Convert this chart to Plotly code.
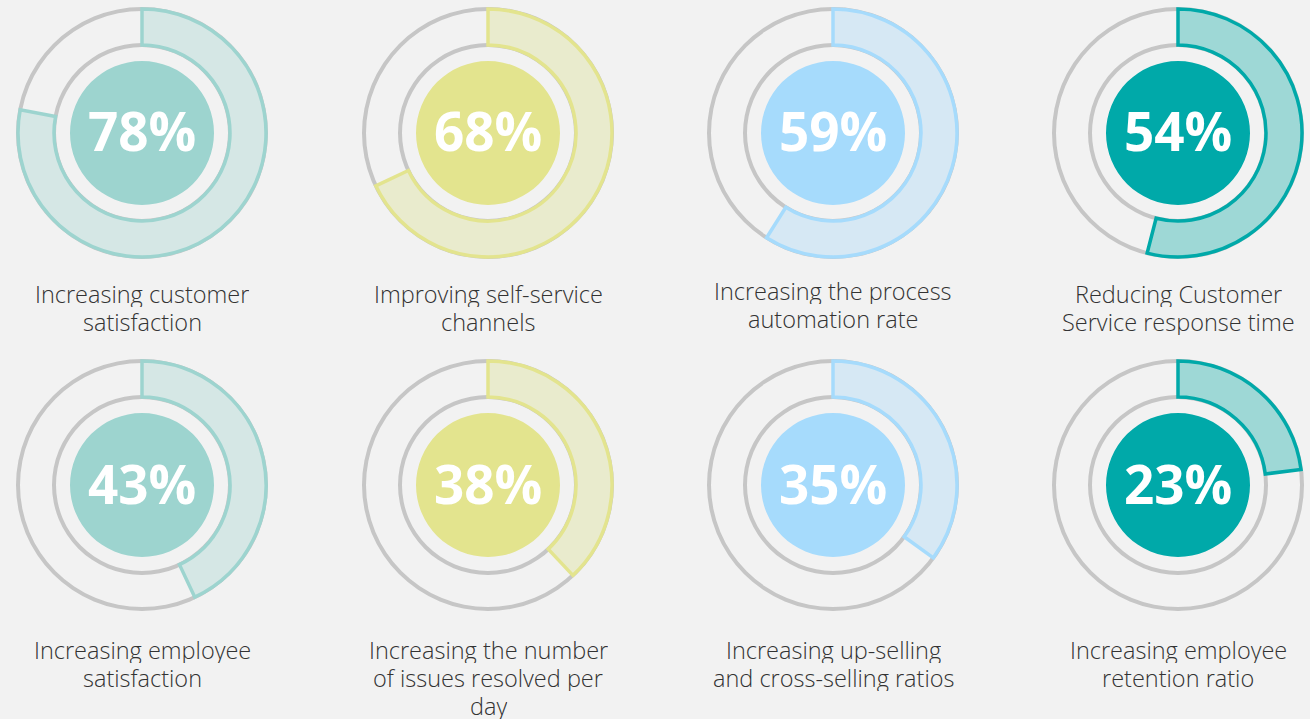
import plotly.graph_objects as go

# values
labels = [
    ["Increasing customer", "satisfaction"],
    ["Improving self-service", "channels"],
    ["Increasing the process", "automation rate"],
    ["Reducing Customer", "Service response time"],
    ["Increasing employee", "satisfaction"],
    ["Increasing the number", "of issues resolved per", "day"],
    ["Increasing up-selling", "and cross-selling ratios"],
    ["Increasing employee", "retention ratio"],
]
percents = [78, 68, 59, 54, 43, 38, 35, 23]

# colour per column: (main, light fill)
main_colors = ["#9DD4CF", "#E3E48E", "#A6DBFC", "#00A9A9"]
fill_colors = ["#D5E7E5", "#E9EBCD", "#D6E8F4", "#9ED8D6"]

W, H = 1310, 719
col_x = [142, 488, 833, 1178]
row_y = [133, 485]
label_y = [294, 650]
R_OUT, R_IN, R_CORE = 124, 88, 72
GREY = "#C6C6C6"

fig = go.Figure()
layout = {}
annotations = []

for i, (lab, pct) in enumerate(zip(labels, percents)):
    row, col = divmod(i, 4)
    cx, cy = col_x[col], row_y[row]
    key = "polar" if i == 0 else f"polar{i + 1}"
    pad = R_OUT + 4
    layout[key] = dict(
        domain=dict(x=[(cx - pad) / W, (cx + pad) / W],
                    y=[1 - (cy + pad) / H, 1 - (cy - pad) / H]),
        bgcolor="rgba(0,0,0,0)",
        radialaxis=dict(visible=False, range=[0, pad]),
        angularaxis=dict(visible=False, direction="clockwise", rotation=90),
    )
    # grey rings (thin full annuli)
    for r in (R_OUT, R_IN):
        fig.add_trace(go.Barpolar(
            r=[4], base=[r - 2], theta=[180], width=[360],
            marker=dict(color=GREY, line=dict(width=0)),
            subplot=key, hoverinfo="skip", showlegend=False))
    # coloured progress segment
    fig.add_trace(go.Barpolar(
        r=[R_OUT - R_IN], base=[R_IN], theta=[pct * 3.6 / 2], width=[pct * 3.6],
        marker=dict(color=fill_colors[col], line=dict(color=main_colors[col], width=3.5)),
        subplot=key, showlegend=False, hovertemplate=f"{pct}%<extra></extra>"))
    # inner filled disc
    fig.add_trace(go.Barpolar(
        r=[R_CORE], base=[0], theta=[180], width=[360],
        marker=dict(color=main_colors[col], line=dict(width=0)),
        subplot=key, showlegend=False, hoverinfo="skip"))
    annotations.append(dict(
        x=cx / W, y=1 - (cy - 2) / H, xref="paper", yref="paper",
        text=f"<b>{pct}%</b>", showarrow=False,
        font=dict(family="Open Sans", size=53, color="white"),
        xanchor="center", yanchor="middle"))
    ly = label_y[row] - (3 if i == 2 else 0)
    for k, line in enumerate(lab):
        annotations.append(dict(
            x=cx / W, y=1 - (ly + 28 * k) / H, xref="paper", yref="paper",
            text=line, showarrow=False, height=26,
            font=dict(family="Open Sans", size=23.5, color="#333333", weight=300),
            xanchor="center", yanchor="middle"))

fig.update_layout(
    width=W, height=H,
    margin=dict(l=0, r=0, t=0, b=0),
    paper_bgcolor="#F2F2F2",
    plot_bgcolor="#F2F2F2",
    annotations=annotations,
    **layout,
)

fig.write_html("out.html", config={"displayModeBar": False},
               post_script="document.body.style.margin='0';")
